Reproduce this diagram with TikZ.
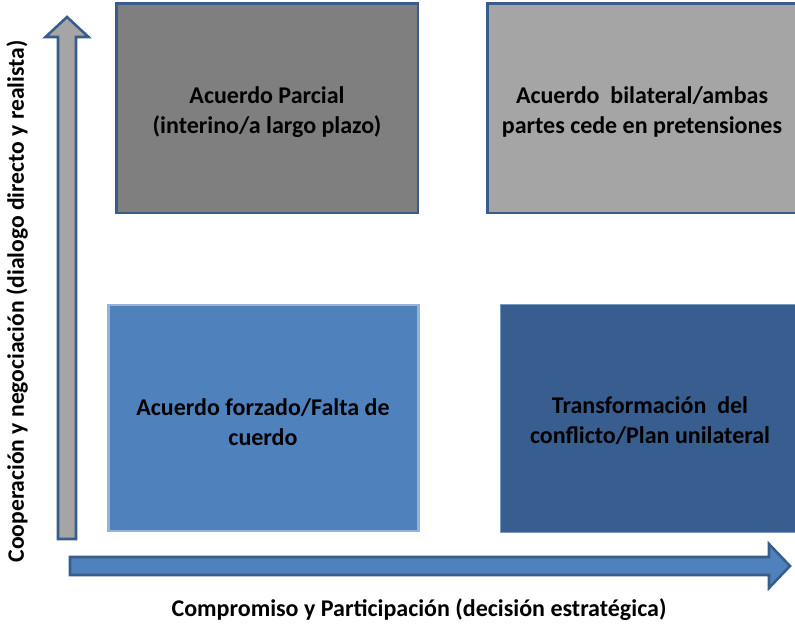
\documentclass[tikz,border=0pt]{standalone}
\usepackage{fontspec}
\setmainfont{Carlito}
\usetikzlibrary{positioning}

\definecolor{edgeblue}{HTML}{385D8A}
\definecolor{paleblue}{HTML}{95B3D7}
\definecolor{midblue}{HTML}{4F81BD}
\definecolor{deepblue}{HTML}{375E8E}
\definecolor{darkgray}{HTML}{7F7F7F}
\definecolor{lightgray}{HTML}{A5A5A5}

\begin{document}
\begin{tikzpicture}[x=0.75pt,y=-0.75pt,
    boxtext/.style={font=\fontsize{18}{22.5}\selectfont\bfseries, align=center, text=black},
    axislabel/.style={font=\fontsize{18}{20}\selectfont\bfseries, text=black}]
      \useasboundingbox (0,0) rectangle (795,627);
      \clip (0,0) rectangle (795,627);

      \filldraw[draw=edgeblue, fill=darkgray, line width=1.9pt] (116.5,3.5) rectangle (418,213);
      \filldraw[draw=edgeblue, fill=lightgray, line width=1.9pt] (487.5,3.5) rectangle (797,213);
      \filldraw[draw=paleblue, fill=midblue, line width=1.9pt] (108.5,305) rectangle (418.5,531);
      \filldraw[draw=paleblue!70!edgeblue, fill=deepblue, line width=0.8pt] (500.5,304.5) rectangle (800,532.5);

      \node[boxtext] (parcial) at (267,112) {Acuerdo Parcial\\(interino/a largo plazo)};
      \node[boxtext] (bilateral) at (642,112) {Acuerdo~~bilateral/ambas\\partes cede en pretensiones};
      \node[boxtext] (forzado) at (263,422) {Acuerdo forzado/Falta de\\cuerdo};
      \node[boxtext] (transf) at (650,421) {Transformación~~del\\conflicto/Plan unilateral};

      \filldraw[draw=edgeblue, fill=lightgray, line width=1.9pt, line join=miter]
        (58,539) -- (58,37) -- (45.5,37) -- (67,17) -- (88.5,37) -- (76,37) -- (76,539) -- cycle;
      \filldraw[draw=edgeblue, fill=midblue, line width=1.9pt, line join=miter]
        (70,557) -- (769,557) -- (769,544) -- (790,566) -- (769,588) -- (769,575) -- (70,575) -- cycle;

      \node[axislabel, font=\fontsize{17.7}{20}\selectfont\bfseries, rotate=90] (coop) at (17,301.5) {Cooperación y negociación (dialogo directo y realista)};
      \node[axislabel] (comp) at (419,610) {Compromiso y Participación (decisión estratégica)};
    \end{tikzpicture}
\end{document}
